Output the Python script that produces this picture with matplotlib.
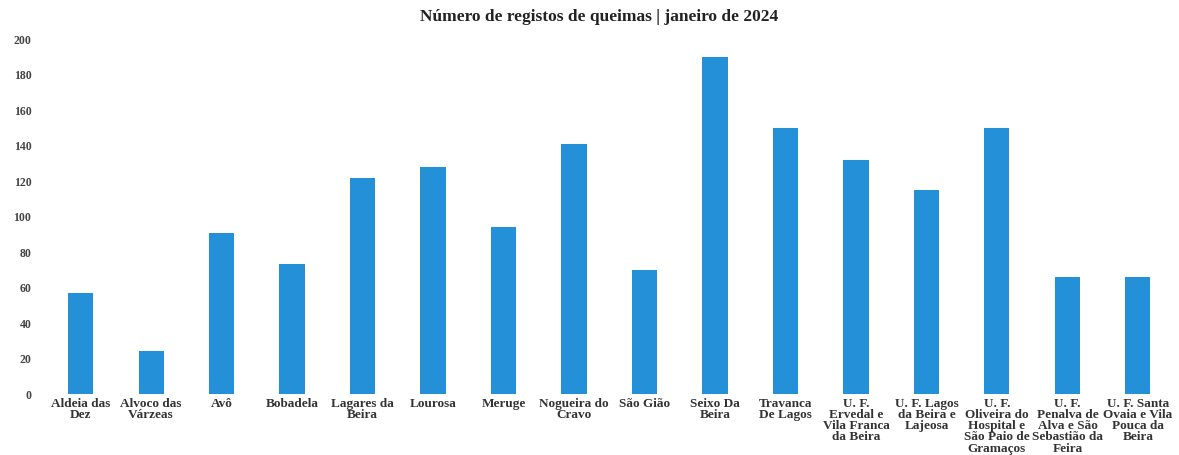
import matplotlib
matplotlib.use("Agg")
import matplotlib.pyplot as plt

freguesias = [
    "Aldeia das\nDez", "Alvoco das\nVárzeas", "Avô", "Bobadela",
    "Lagares da\nBeira", "Lourosa", "Meruge", "Nogueira do\nCravo",
    "São Gião", "Seixo Da\nBeira", "Travanca\nDe Lagos",
    "U. F.\nErvedal e\nVila Franca\nda Beira",
    "U. F. Lagos\nda Beira e\nLajeosa",
    "U. F.\nOliveira do\nHospital e\nSão Paio de\nGramaços",
    "U. F.\nPenalva de\nAlva e São\nSebastião da\nFeira",
    "U. F. Santa\nOvaia e Vila\nPouca da\nBeira",
]
registos = [57, 24, 91, 73, 122, 128, 94, 141, 70, 190, 150, 132, 115, 150, 66, 66]
y_ticks = [0, 20, 40, 60, 80, 100, 120, 140, 160, 180, 200]

titulo = "Número de registos de queimas | janeiro de 2024"

serif = ["Liberation Serif", "DejaVu Serif"]

fig = plt.figure(figsize=(11.79, 4.55), dpi=100)
ax = fig.add_axes([0.0384, 0.134, 0.9567, 0.780])

x = range(len(freguesias))
ax.bar(x, registos, width=0.355, color="#2390d8")

ax.set_xlim(-0.5, len(freguesias) - 0.5)
ax.set_ylim(0, 200)
ax.set_yticks(y_ticks)
ax.set_yticklabels([str(v) for v in y_ticks], fontsize=8.5,
                   fontweight="bold", family=serif, color="#444444")
ax.set_xticks(list(x))
ax.set_xticklabels(freguesias, fontsize=9.5, fontweight="bold",
                   family=serif, color="#333333", linespacing=0.9,
                   va="top", ha="center")
ax.tick_params(axis="both", length=0)
ax.tick_params(axis="x", pad=3)
ax.tick_params(axis="y", pad=10)
for s in ax.spines.values():
    s.set_visible(False)

fig.text(0.508, 0.962, titulo, ha="center", va="center", fontsize=12.5,
         fontweight="bold", family=serif, color="#222222")

fig.savefig("out.png", dpi=100, facecolor="white")
